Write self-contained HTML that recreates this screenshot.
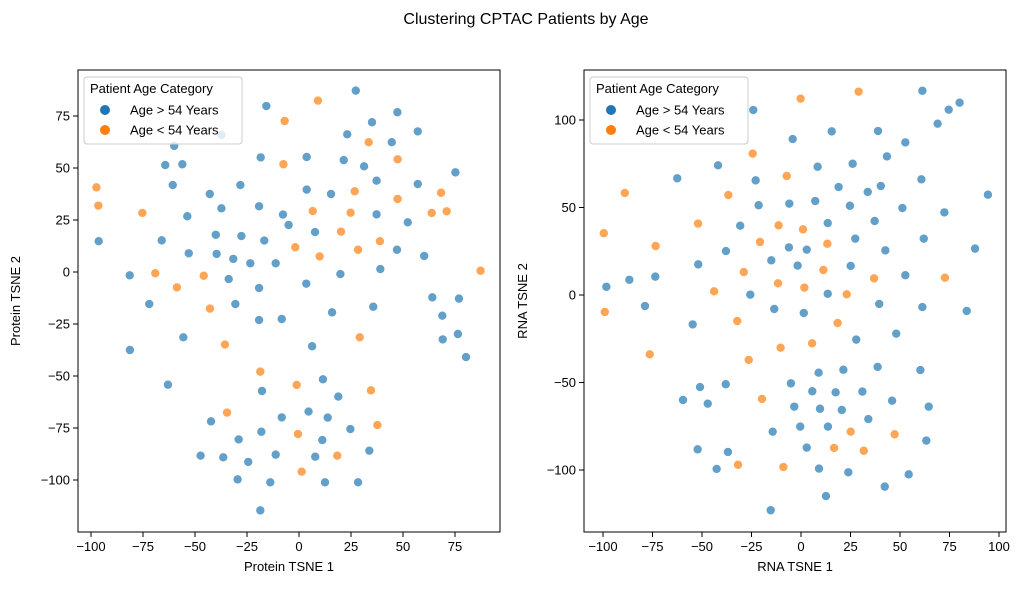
<!DOCTYPE html>
<html><head><meta charset="utf-8"><style>
body{margin:0;background:#fff;}
svg text{font-family:"Liberation Sans","DejaVu Sans",sans-serif;fill:#000;}
</style></head><body>
<svg id="fig" width="1021" height="585" viewBox="0 0 1021 585" xmlns="http://www.w3.org/2000/svg">
<rect width="1021" height="585" fill="#fff"/>
<text x="526" y="24" font-size="16" text-anchor="middle">Clustering CPTAC Patients by Age</text>
</svg>
<script>
// ---- Protein TSNE data ----
const protBlueX=[27.3,-15.7,47.3,35.1,23.2,57.1,44.6,-37.3,-60,-64.3,-56.1,-18.4,3.7,21.5,31.3,75.2,-60.7,-28.2,37.3,57.1,-42.9,3.7,15.4,-53.7,-37.3,-19.2,-7.7,37.3,-5,52.3,-96.3,-66,-40,-27.7,-16.7,7.7,47.1,60.2,-53,-39.6,-31.6,-23.4,-11.2,-81.4,-33.8,-19.2,3.5,19.9,39.1,64.1,76.9,-72,-30.6,-19.2,-8.3,15.9,35.7,68.9,76.4,69.1,80.3,-55.6,-81.3,6.3,-63,11.5,-17.8,18.9,-42.3,-8.3,4.6,13.8,24.7,-18.1,-29,11.2,-47.3,-36.4,-24.4,-11.2,7.8,33.8,-29.5,-13.8,12.5,28.4,-18.6];
const protBlueY=[87.2,79.8,76.8,72,66.2,67.6,62.4,65.9,60.6,51.4,51.8,55.1,55.3,53.8,50.8,47.9,41.8,41.8,43.9,42.3,37.5,39.6,37.5,26.8,30.6,31.6,27.6,27.7,22.6,23.9,14.8,15.2,17.9,17.3,15.1,19.2,10.7,7.7,9,8.7,6.3,4.2,4.2,-1.6,-3.4,-7.7,-5.6,-1,1.4,-12.2,-12.8,-15.4,-15.4,-23.1,-22.6,-19.4,-16.7,-21,-29.8,-32.4,-40.9,-31.4,-37.5,-35.7,-54.2,-51.6,-57.2,-59.9,-71.8,-69.9,-67.1,-70,-75.5,-76.8,-80.5,-80.8,-88.3,-89.1,-91.3,-87.8,-88.8,-85.9,-99.7,-101.1,-101.1,-101.1,-114.6];
const protOrangeX=[9.1,-6.9,33.5,-7.5,47.4,-97.4,26.8,47.4,68.3,-96.5,-75.3,6.6,24.8,63.8,71,20.2,-1.8,38.9,28.4,9.9,-69.1,-45.8,-58.7,87.3,-42.8,-35.6,29.2,-18.6,-1.1,34.6,-34.6,37.7,-0.5,18.4,1.3];
const protOrangeY=[82.4,72.6,62.4,51.8,54.2,40.7,38.8,35.1,38.1,31.9,28.4,29.3,28.5,28.4,29.2,19.4,11.9,14.8,10.7,7.5,-0.6,-1.8,-7.4,0.6,-17.6,-34.9,-31.4,-47.9,-54.3,-56.9,-67.6,-73.6,-77.9,-88.3,-96];
const protXTicks=[-100,-75,-50,-25,0,25,50,75];
const protYTicks=[-100,-75,-50,-25,0,25,50,75];
// ---- RNA TSNE data ----
const rnaBlueX=[61.3,80.1,-24.1,74.6,69,15.5,38.9,-4.2,52.7,43.4,-41.9,8.4,26.1,-62.5,-22.9,60.8,19,33.7,40.3,94.4,-21.4,-5.9,7.2,24.7,51.2,72.4,-30.7,13.5,37.2,-6.1,2.9,27.4,42.6,62,87.9,-37.9,-15,-51.9,-1.7,25.1,52.7,-98.3,-86.7,-73.6,-25.6,13.5,-78.8,-13.5,1.4,39.5,61.3,83.7,-54.7,48.1,27.9,8.9,21.4,38.7,60.3,-51,-38,-5.1,-59.6,-47.1,5.7,17.5,31,46,64.5,-3.4,9.6,20.6,34,-14.3,-0.4,13.6,63.3,-52.2,-36.9,2.9,-42.6,9.1,23.9,54.4,42.3,12.6,-15.3];
const rnaBlueY=[116.7,109.9,105.7,105.9,97.9,93.5,93.7,89.1,87.2,79.2,74.1,73.3,75,66.7,65.5,66.1,61.7,58.9,62.3,57.3,51.3,52.2,53.7,51,49.7,47.2,39.6,41.1,42.3,27.2,25.9,32.2,25.5,32.2,26.5,25.1,19.8,17.5,16.8,16.6,11.3,4.7,8.7,10.5,0.2,0.7,-6.3,-8,-10.3,-5.1,-6.9,-9.1,-16.8,-22.1,-25.5,-44.4,-42.7,-41.1,-42.9,-52.6,-51,-50.5,-60,-62.1,-55,-55.6,-55.2,-60.4,-63.8,-63.8,-65,-65.7,-70.9,-78.1,-75.2,-75.2,-83.2,-88.2,-89.7,-87.2,-99.4,-99.2,-101.3,-102.5,-109.5,-114.9,-123];
const rnaOrangeX=[29.1,-0.2,-24.4,-7.2,-89,-36.7,-52,-11.3,1,-99.6,-73.4,-20.7,13.3,-28.9,11.3,36.9,72.7,-43.9,-11.6,1.7,23.1,-99.1,-32.2,18.5,-76.4,-10.3,5.6,-26.4,-19.7,25.1,47.3,16.7,31.7,-31.8,-8.9];
const rnaOrangeY=[116.2,112.2,80.8,68,58.3,57.1,40.8,39.8,37.5,35.3,28,30.3,29.3,13.1,14.3,9.5,9.9,2.1,6.7,4.2,0.4,-9.7,-14.9,-16,-33.9,-30.1,-27.6,-37.1,-59.4,-78.1,-79.6,-87.4,-89,-97,-98.3];
const rnaXTicks=[-100,-75,-50,-25,0,25,50,75,100];
const rnaYTicks=[-100,-50,0,50,100];

const NS="http://www.w3.org/2000/svg";
const svg=document.getElementById('fig');
function mk(tag,attrs,parent){const e=document.createElementNS(NS,tag);for(const k in attrs)e.setAttribute(k,attrs[k]);(parent||svg).appendChild(e);return e;}
function fmt(v){return v<0?'\u2212'+Math.abs(v):String(v);}

function panel(p){
  const g=mk('g',{});
  
  
  const sx=v=>p.x0+(v-p.dx0)/(p.dx1-p.dx0)*(p.x1-p.x0);
  const sy=v=>p.y1-(v-p.dy0)/(p.dy1-p.dy0)*(p.y1-p.y0);
  // points
  const series=[[p.bx,p.by,'#1f77b4','point-age-over-54'],[p.ox,p.oy,'#ff7f0e','point-age-under-54']];
  series.forEach(s=>{
    for(let i=0;i<s[0].length;i++){
      const c=mk('circle',{cx:sx(s[0][i]),cy:sy(s[1][i]),r:4.6,fill:s[2],'fill-opacity':0.7,stroke:'#fff','stroke-width':0.8},g);
      
      
    }
  });
  // frame
  const fr=mk('rect',{x:p.x0,y:p.y0,width:p.x1-p.x0,height:p.y1-p.y0,fill:'none',stroke:'#000','stroke-width':1},g);
  
  
  p.xt.forEach(t=>{
    const x=sx(t);
    mk('line',{x1:x,x2:x,y1:p.y1,y2:p.y1+5,stroke:'#000'},g);
    const tx=mk('text',{x:x,y:p.y1+19,'font-size':13,'text-anchor':'middle'},g);
    tx.textContent=fmt(t);
    
    
  });
  p.yt.forEach(t=>{
    const y=sy(t);
    mk('line',{x1:p.x0-5,x2:p.x0,y1:y,y2:y,stroke:'#000'},g);
    const tx=mk('text',{x:p.x0-8,y:y+4.5,'font-size':13,'text-anchor':'end'},g);
    tx.textContent=fmt(t);
    
    
  });
  const xl=mk('text',{x:(p.x0+p.x1)/2,y:571,'font-size':13,'text-anchor':'middle'},g);
  xl.textContent=p.xlab;
  
  
  const yl=mk('text',{x:0,y:0,'font-size':13,'text-anchor':'middle',transform:`translate(${p.ylx},${(p.y0+p.y1)/2}) rotate(-90)`},g);
  yl.textContent=p.ylab;
  
  
  // legend
  const lg=mk('g',{},g);
  
  
  const lx=p.x0+6;
  mk('rect',{x:lx,y:77,width:158,height:67,rx:3,fill:'#fff','fill-opacity':0.8,stroke:'#ccc'},lg);
  const lt=mk('text',{x:lx+6,y:93,'font-size':13},lg);
  lt.textContent='Patient Age Category';
  
  
  [['#1f77b4','Age > 54 Years',110],['#ff7f0e','Age < 54 Years',130]].forEach((e,i)=>{
    const eg=mk('g',{},lg);
    
    
    mk('circle',{cx:lx+21,cy:e[2],r:5,fill:e[0]},eg);
    const et=mk('text',{x:lx+46,y:e[2]+4.5,'font-size':13},eg);
    et.textContent=e[1];
  });
}
panel({name:'protein-tsne-panel',x0:78,x1:500,y0:70,y1:532,dx0:(78-299)/2.08,dx1:(500-299)/2.08,dy0:(272-532)/2.08,dy1:(272-70)/2.08,
  bx:protBlueX,by:protBlueY,ox:protOrangeX,oy:protOrangeY,xt:protXTicks,yt:protYTicks,xlab:'Protein TSNE 1',ylab:'Protein TSNE 2',ylx:20});
panel({name:'rna-tsne-panel',x0:584,x1:1006,y0:70,y1:532,dx0:(584-801)/1.98,dx1:(1006-801)/1.98,dy0:(295-532)/1.75,dy1:(295-70)/1.75,
  bx:rnaBlueX,by:rnaBlueY,ox:rnaOrangeX,oy:rnaOrangeY,xt:rnaXTicks,yt:rnaYTicks,xlab:'RNA TSNE 1',ylab:'RNA TSNE 2',ylx:527});
</script>
</body></html>
